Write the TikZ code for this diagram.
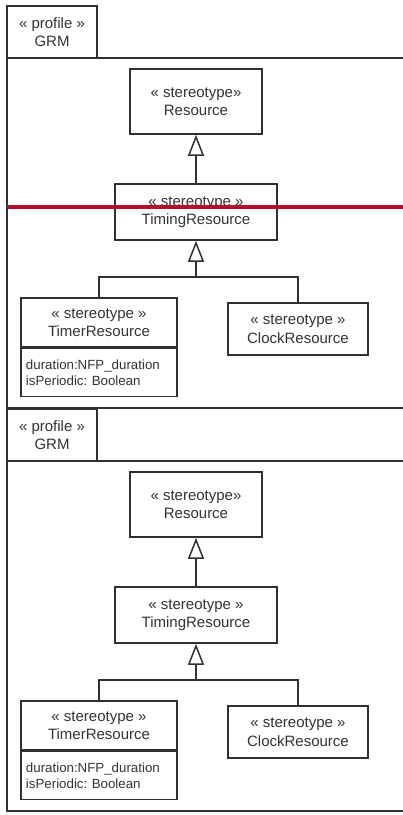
\documentclass[tikz,border=0pt]{standalone}
\usepackage{fontspec}
\setmainfont{Liberation Sans}
\usetikzlibrary{arrows.meta}
\definecolor{ink}{HTML}{303030}
\definecolor{txt}{HTML}{333333}
\definecolor{redline}{HTML}{B00E30}
\begin{document}
\frenchspacing
\begin{tikzpicture}[x=1pt,y=-1pt,
  box/.style={draw=ink, line width=1.6pt, fill=white, inner sep=0pt, align=center,
    font=\fontsize{15}{18.5}\selectfont, text=txt},
  attrbox/.style={draw=ink, line width=1.6pt, fill=white, inner xsep=5pt, inner ysep=0pt, align=left,
    font=\fontsize{13.3}{15.5}\selectfont, text=txt},
  frameline/.style={draw=ink, line width=2pt},
  conn/.style={draw=ink, line width=1.5pt},
  inh/.style={conn, -{Triangle[width=16pt,length=21pt,fill=white,line width=1.5pt]}}]
\useasboundingbox (0,0) rectangle (403,815);
\clip (0,0) rectangle (403,815);
\fill[white] (0,0) rectangle (403,815);
\foreach \p/\o in {a/0,b/403}{
\begin{scope}[yshift=-\o pt]
  % frame and tab
  \draw[frameline] (430,58) -- (7,58) -- (7,408) -- (430,408);
  \node[box, line width=2pt, minimum width=90pt, minimum height=52pt] (\p-tab) at (52,32) {« profile »\\GRM};
  % classes
  \node[box, minimum width=132pt, minimum height=65pt] (\p-res) at (196,101.5) {« stereotype»\\Resource};
  \node[box, minimum width=162pt, minimum height=56pt] (\p-timing) at (196,212) {« stereotype »\\TimingResource};
  \node[box, minimum width=156pt, minimum height=49pt] (\p-timer) at (99,322.5) {« stereotype »\\TimerResource};
  \node[attrbox, text width=146pt, minimum height=48pt, anchor=north] (\p-timerattr) at (\p-timer.south) {duration:NFP\_duration\\isPeriodic: Boolean\\[3pt]};
  \node[box, minimum width=140pt, minimum height=52pt] (\p-clock) at (298,329) {« stereotype »\\ClockResource};
  % connectors
  \draw[inh] (\p-timing.north) -- (\p-res.south);
  \coordinate (\p-j) at (196,277);
  \draw[conn] (\p-timer.north) |- (\p-j);
  \draw[conn] (\p-clock.north) |- (\p-j);
  \draw[inh] (\p-j) -- (\p-timing.south);
\end{scope}
}
\draw[redline, line width=4pt] (7,207) -- (403,207);
\end{tikzpicture}
\end{document}
